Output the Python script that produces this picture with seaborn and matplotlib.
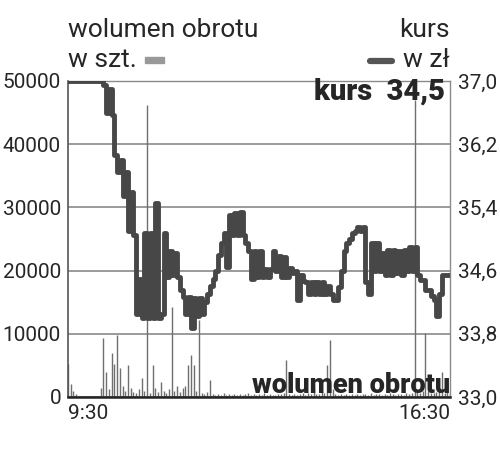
import numpy as np
import matplotlib
matplotlib.use("Agg")
import matplotlib.pyplot as plt
import seaborn as sns
from matplotlib.lines import Line2D
from matplotlib.patches import Rectangle

# minutes after 9:30, one reading every 3 minutes
minutes = np.arange(141) * 3

# share price (zł)
price = [
    37.0, 37.0, 37.0, 37.0, 37.0, 37.0, 37.0, 37.0, 37.0, 37.0,
    37.0, 37.0, 37.0, 36.95, 36.6, 36.9, 36.57, 36.06, 35.85, 36.0,
    35.55, 35.85, 35.1, 35.6, 35.05, 34.05, 34.5, 34.0, 35.07, 34.0,
    35.07, 34.0, 35.45, 34.0, 34.05, 35.07, 34.52, 34.85, 34.55, 34.82,
    34.52, 34.35, 34.27, 34.05, 34.27, 33.87, 34.25, 34.02, 34.25, 34.05,
    34.2, 34.3, 34.4, 34.5, 34.6, 34.8, 34.95, 35.08, 34.65, 35.3,
    35.05, 35.33, 35.05, 35.34, 35.05, 34.95, 34.85, 34.5, 34.85, 34.52,
    34.85, 34.52, 34.62, 34.52, 34.62, 34.85, 34.6, 34.78, 34.52, 34.77,
    34.52, 34.63, 34.57, 34.6, 34.23, 34.55, 34.47, 34.46, 34.3, 34.46,
    34.3, 34.45, 34.3, 34.45, 34.3, 34.4, 34.3, 34.23, 34.23, 34.39,
    34.6, 34.85, 34.95, 35.0, 35.08, 35.1, 35.15, 35.1, 35.15, 34.45,
    34.3, 34.95, 34.6, 34.95, 34.6, 34.82, 34.55, 34.86, 34.55, 34.86,
    34.57, 34.85, 34.55, 34.86, 34.6, 34.9, 34.6, 34.9, 34.55, 34.48,
    34.48, 34.35, 34.35, 34.28, 34.23, 34.02, 34.3, 34.55, 34.55, 34.55,
    34.55,
]

# turnover (pcs)
volume = [
    5300, 2000, 900, 400, 200, 150, 100, 100, 80, 100,
    100, 150, 1500, 9300, 4000, 1200, 7000, 5300, 9800, 4600,
    1800, 1000, 5000, 1500, 800, 600, 1200, 3000, 900, 46200,
    700, 5000, 1500, 800, 2400, 900, 600, 1300, 14200, 1000,
    1800, 800, 1500, 1700, 5000, 6600, 5000, 1000, 12200, 600,
    400, 800, 2700, 500, 300, 400, 300, 600, 300, 400,
    300, 500, 300, 400, 300, 400, 600, 300, 500, 300,
    400, 300, 600, 300, 400, 300, 300, 500, 400, 600,
    5800, 400, 300, 500, 300, 400, 700, 300, 600, 400,
    1500, 500, 400, 1000, 600, 5000, 9000, 1200, 400, 300,
    500, 300, 400, 300, 500, 300, 400, 300, 500, 400,
    300, 600, 300, 400, 500, 300, 400, 300, 600, 400,
    300, 500, 400, 300, 600, 400, 700, 47000, 800, 600,
    1000, 10100, 900, 700, 600, 800, 1500, 4000, 700, 900,
    600,
]

vol_ticks = [0, 10000, 20000, 30000, 40000, 50000]
price_ticks = [33.0, 33.8, 34.6, 35.4, 36.2, 37.0]
price_labels = ["33,0", "33,8", "34,6", "35,4", "36,2", "37,0"]

sns.set_style("white")
plt.rcParams["font.family"] = ["Roboto", "DejaVu Sans"]

W, H = 500, 463
fig = plt.figure(figsize=(W / 100, H / 100), dpi=100)
ax = fig.add_axes([68 / W, 1 - 397 / H, (450 - 68) / W, (397 - 81) / H])

ax.vlines(minutes, 0, volume, color="#6f6f6f", linewidth=1.0)
ax.set_xlim(0, 420)
ax.set_ylim(0, 50000)
ax.set_yticks(vol_ticks)
ax.set_yticklabels([str(v) for v in vol_ticks], fontsize=15)
ax.set_xticks([0, 420])
xl = ax.set_xticklabels(["9:30", "16:30"], fontsize=15)
xl[0].set_horizontalalignment("left")
xl[1].set_horizontalalignment("right")
ax.tick_params(length=0, pad=5)
ax.grid(axis="y", color="#8a8a8a", linewidth=1.2)
for s in ["top", "right"]:
    ax.spines[s].set_color("#8a8a8a")
    ax.spines[s].set_linewidth(1.0)
ax.spines["left"].set_color("#555555")
ax.spines["left"].set_linewidth(1.2)
ax.spines["bottom"].set_color("#222222")
ax.spines["bottom"].set_linewidth(1.8)

ax2 = ax.twinx()
sns.lineplot(x=minutes, y=price, ax=ax2, color="#474747", linewidth=3.5,
             drawstyle="steps-post")
ax2.set_ylim(33.0, 37.0)
ax2.set_yticks(price_ticks)
ax2.set_yticklabels(price_labels, fontsize=15)
ax2.tick_params(length=0, pad=6)
for s in ax2.spines.values():
    s.set_visible(False)

# header / legend
fig.text(68 / W, 1 - 37 / H, "wolumen obrotu", fontsize=19, ha="left", va="baseline")
fig.text(68 / W, 1 - 67 / H, "w szt.", fontsize=19, ha="left", va="baseline")
fig.patches.append(Rectangle((145 / W, 1 - 63 / H), 19 / W, 6 / H,
                             transform=fig.transFigure, color="#999999"))
fig.text(450 / W, 1 - 37 / H, "kurs", fontsize=19, ha="right", va="baseline")
fig.text(450 / W, 1 - 67 / H, "w zł", fontsize=19, ha="right", va="baseline")
fig.lines.append(Line2D([370 / W, 392 / W], [1 - 61 / H, 1 - 61 / H],
                        transform=fig.transFigure, color="#555555",
                        linewidth=4.5, solid_capstyle="round"))

fig.text(445 / W, 1 - 100 / H, "kurs  34,5", fontsize=21, fontweight="heavy",
         ha="right", va="baseline")
fig.text(450 / W, 1 - 393 / H, "wolumen obrotu", fontsize=19.5, fontweight="heavy",
         ha="right", va="baseline",
         family=["Liberation Sans Narrow", "Roboto", "DejaVu Sans"])

fig.savefig("out.png", dpi=100)
